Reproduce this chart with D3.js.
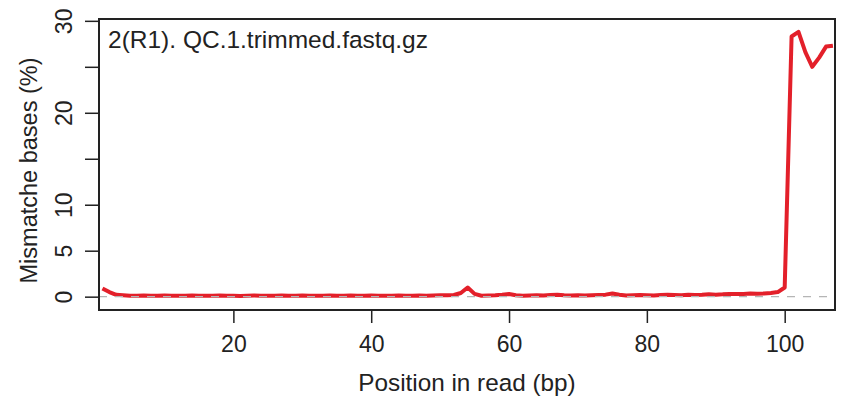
<!DOCTYPE html>
<html>
<head>
<meta charset="utf-8">
<script src="https://cdn.jsdelivr.net/npm/d3@7"></script>
<style>
  body { margin: 0; background: #fff; }
  text { font-family: "Liberation Sans", Arial, sans-serif; fill: #222; }
</style>
</head>
<body>
<div class="container"></div>
<script>
// mismatch % per read position (1..107)
const mismatch = [
  0.9, 0.5, 0.2, 0.15, 0.1, 0.1, 0.12, 0.1, 0.1, 0.12,
  0.1, 0.1, 0.1, 0.12, 0.1, 0.1, 0.1, 0.12, 0.1, 0.1,
  0.08, 0.1, 0.12, 0.1, 0.1, 0.1, 0.12, 0.1, 0.1, 0.12,
  0.1, 0.1, 0.1, 0.12, 0.1, 0.1, 0.12, 0.1, 0.1, 0.12,
  0.1, 0.1, 0.1, 0.12, 0.1, 0.1, 0.12, 0.1, 0.12, 0.15,
  0.15, 0.18, 0.4, 1.0, 0.3, 0.1, 0.12, 0.15, 0.2, 0.28,
  0.15, 0.1, 0.12, 0.15, 0.12, 0.18, 0.2, 0.15, 0.12, 0.15,
  0.12, 0.15, 0.18, 0.22, 0.35, 0.2, 0.12, 0.15, 0.18, 0.15,
  0.12, 0.18, 0.2, 0.18, 0.15, 0.2, 0.18, 0.2, 0.25, 0.22,
  0.25, 0.3, 0.28, 0.3, 0.35, 0.32, 0.35, 0.4, 0.5, 1.0,
  28.3, 28.8, 26.6, 25.0, 26.0, 27.2, 27.3
];
const positions = mismatch.map((_, i) => i + 1);

const xTicks = [20, 40, 60, 80, 100];
const yTicks = [0, 5, 10, 15, 20, 25, 30];
const yLabels = [0, 5, 10, 20, 30]; // R drops the ones that would collide
const sampleName = '2(R1). QC.1.trimmed.fastq.gz';

function draw() {
    const width = 844, height = 397;
    const box = {left: 99, right: 835, top: 19, bottom: 310};

    const x = d3.scaleLinear().domain([0.5, 107.3]).range([box.left, box.right]);
    const y = d3.scaleLinear().domain([-1.45, 30.2]).range([box.bottom, box.top]);

    const svg = d3.select('.container')
        .append('svg')
        .attr('width', width)
        .attr('height', height);

    svg.append('defs').append('clipPath').attr('id', 'plot')
        .append('rect')
        .attr('x', box.left).attr('y', box.top)
        .attr('width', box.right - box.left).attr('height', box.bottom - box.top);

    // data line
    const line = d3.line()
        .x((d, i) => x(positions[i]))
        .y(d => y(d));

    svg.append('path')
        .datum(mismatch)
        .attr('clip-path', 'url(#plot)')
        .attr('d', line)
        .attr('fill', 'none')
        .attr('stroke', '#e3202a')
        .attr('stroke-width', 4)
        .attr('stroke-linejoin', 'round');

    // dashed reference at zero
    svg.append('line')
        .attr('x1', box.left).attr('x2', box.right)
        .attr('y1', y(0)).attr('y2', y(0))
        .attr('stroke', '#b5b5b5')
        .attr('stroke-width', 1.3)
        .attr('stroke-dasharray', '8,8');

    // x axis
    const xAxis = svg.append('g')
        .attr('transform', `translate(0,${box.bottom})`)
        .call(d3.axisBottom(x).tickValues(xTicks).tickSize(13).tickPadding(13));
    xAxis.select('.domain').remove();
    xAxis.selectAll('line').attr('stroke', '#222').attr('stroke-width', 1.5);
    xAxis.selectAll('text').attr('font-size', 23).attr('fill', '#222')
        .attr('font-family', '"Liberation Sans", Arial, sans-serif');

    // y axis, labels parallel to the axis like R's las=0
    const yAxis = svg.append('g')
        .attr('transform', `translate(${box.left},0)`)
        .call(d3.axisLeft(y).tickValues(yTicks).tickSize(14)
            .tickFormat(d => yLabels.includes(d) ? d : ''));
    yAxis.select('.domain').remove();
    yAxis.selectAll('line').attr('stroke', '#222').attr('stroke-width', 1.5);
    yAxis.selectAll('text')
        .attr('font-size', 23).attr('fill', '#222')
        .attr('font-family', '"Liberation Sans", Arial, sans-serif')
        .attr('x', 0).attr('dy', null)
        .attr('text-anchor', 'middle')
        .attr('transform', 'translate(-35,0) rotate(-90)')
        .attr('dominant-baseline', 'central');

    // frame
    svg.append('rect')
        .attr('x', box.left).attr('y', box.top)
        .attr('width', box.right - box.left).attr('height', box.bottom - box.top)
        .attr('fill', 'none')
        .attr('stroke', '#222')
        .attr('stroke-width', 2);

    svg.append('text')
        .attr('x', 108).attr('y', 48)
        .attr('font-size', 24.5)
        .text(sampleName);

    svg.append('text')
        .attr('x', (box.left + box.right) / 2).attr('y', 391)
        .attr('text-anchor', 'middle')
        .attr('font-size', 24.3)
        .text('Position in read (bp)');

    svg.append('text')
        .attr('transform', `translate(37,${(box.top + box.bottom) / 2 + 6}) rotate(-90)`)
        .attr('text-anchor', 'middle')
        .attr('font-size', 23.5)
        .text('Mismatche bases (%)');
}

draw();
</script>
</body>
</html>
